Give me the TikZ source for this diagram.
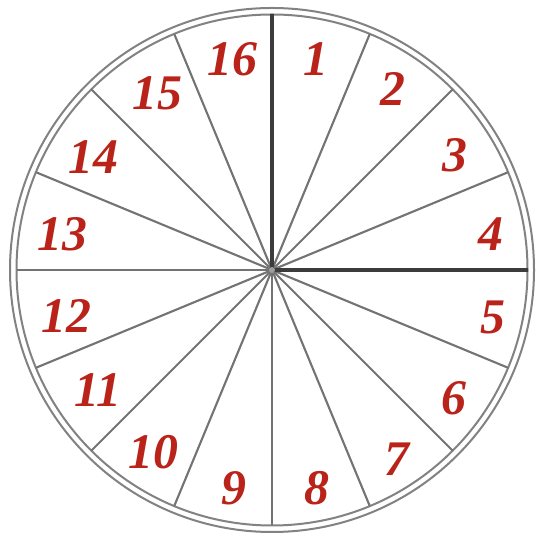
\documentclass[tikz,border=0pt]{standalone}
\usepackage{fontspec}
\setmainfont{Liberation Serif}
\definecolor{ringgray}{RGB}{130,130,130}
\definecolor{spokegray}{RGB}{115,115,115}
\definecolor{darkspoke}{RGB}{60,60,60}
\definecolor{numred}{RGB}{185,35,25}
\begin{document}
\begin{tikzpicture}[x=1bp,y=1bp,
  ring/.style={draw=ringgray,line width=2bp},
  spoke/.style={draw=spokegray,line width=2.1bp},
  mainspoke/.style={draw=darkspoke,line width=3.2bp},
  num/.style={text=numred,font=\fontsize{50}{50}\selectfont\bfseries\itshape,inner sep=0pt}]
\useasboundingbox (0,0) rectangle (541,537);
\fill[white] (0,0) rectangle (541,537);
\coordinate (c) at (272,267);
\draw[ring] (c) circle[radius=262];
\draw[ring] (c) circle[radius=255.5];
\foreach \a in {67.5,45,22.5,-22.5,-45,-67.5,-90,-112.5,-135,-157.5,180,157.5,135,112.5}
  \draw[spoke] (c) -- ++(\a:255.5);
\draw[mainspoke] (c) -- ++(90:255.5);
\draw[mainspoke] (c) -- ++(0:255.5);
\fill[spokegray!70] (c) circle[radius=3];
\node[num] (n1) at (316,478) {1};
\node[num] (n2) at (393,448) {2};
\node[num] (n3) at (455,382) {3};
\node[num] (n4) at (491,303) {4};
\node[num] (n5) at (493,220) {5};
\node[num] (n6) at (454,139) {6};
\node[num] (n7) at (397,78) {7};
\node[num] (n8) at (317,49) {8};
\node[num] (n9) at (234,49) {9};
\node[num] (n10) at (153,85) {10};
\node[num] (n11) at (98,147) {11};
\node[num] (n12) at (66,221) {12};
\node[num] (n13) at (62,303) {13};
\node[num] (n14) at (93,380) {14};
\node[num] (n15) at (157,444) {15};
\node[num] (n16) at (232,478) {16};
\end{tikzpicture}
\end{document}
